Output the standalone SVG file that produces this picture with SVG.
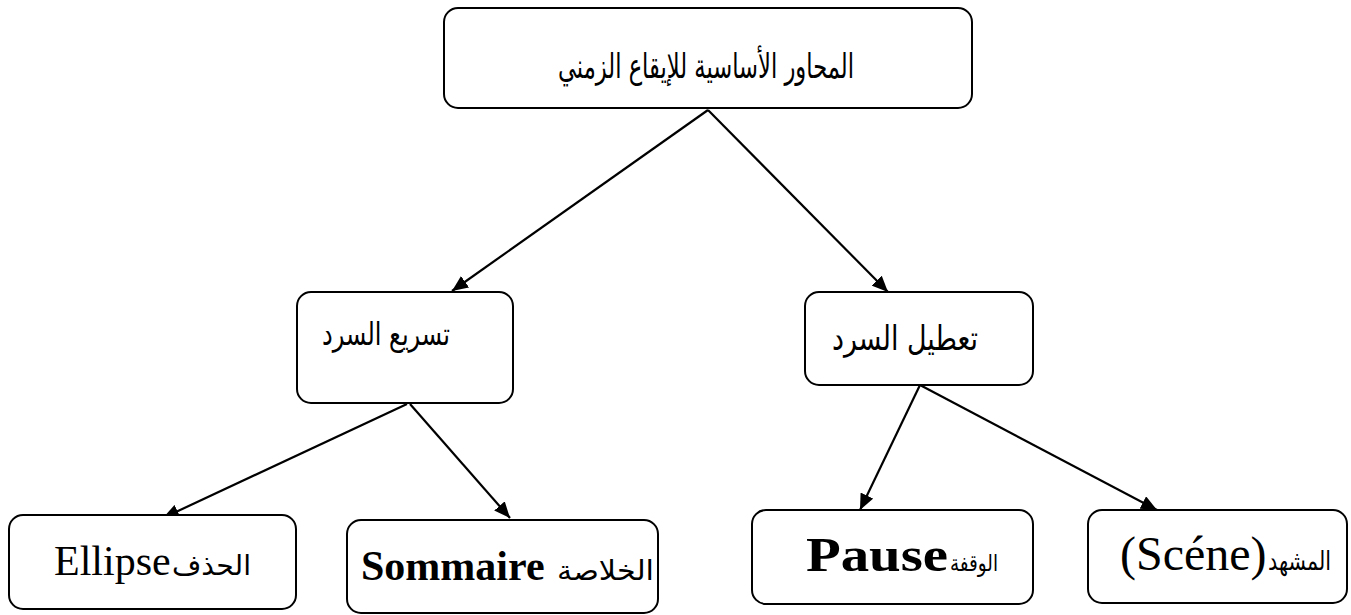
<svg xmlns="http://www.w3.org/2000/svg" width="1351" height="615" viewBox="0 0 1351 615">
<style>
.box{fill:#fff;stroke:#000;stroke-width:2}
.t{font-family:"Liberation Serif","DejaVu Sans",serif;fill:#000}
.ar{font-family:"DejaVu Sans","Liberation Serif",sans-serif;fill:#000}
.con line{stroke:#000;stroke-width:2.2}
</style>
<defs>
<marker id="ah" markerUnits="userSpaceOnUse" markerWidth="18" markerHeight="14" refX="16" refY="7" orient="auto">
<path d="M0,0 L16,7 L0,14 Z" fill="#000"/>
</marker>
</defs>
<rect width="1351" height="615" fill="#fff"/>
<g id="connectors" class="con">
<line x1="708" y1="110" x2="452" y2="291" marker-end="url(#ah)"/>
<line x1="708" y1="110" x2="888" y2="292" marker-end="url(#ah)"/>
<line x1="407" y1="404" x2="163" y2="518" marker-end="url(#ah)"/>
<line x1="410" y1="404" x2="510" y2="518" marker-end="url(#ah)"/>
<line x1="920" y1="385" x2="860" y2="510" marker-end="url(#ah)"/>
<line x1="920" y1="385" x2="1157" y2="510" marker-end="url(#ah)"/>
</g>
<g id="root">
<rect class="box" x="444" y="8" width="528" height="100" rx="14"/>
<text class="ar" x="706" y="78" font-size="34" text-anchor="middle" direction="rtl" textLength="296" lengthAdjust="spacingAndGlyphs">المحاور الأساسية للإيقاع الزمني</text>
</g>
<g id="tasri">
<rect class="box" x="297" y="292" width="216" height="111" rx="14"/>
<text class="ar" x="386" y="345" font-size="32" text-anchor="middle" direction="rtl" textLength="128" lengthAdjust="spacingAndGlyphs">تسريع السرد</text>
</g>
<g id="tatil">
<rect class="box" x="805" y="292" width="228" height="93" rx="14"/>
<text class="ar" x="905" y="350" font-size="34" text-anchor="middle" direction="rtl" textLength="146" lengthAdjust="spacingAndGlyphs">تعطيل السرد</text>
</g>
<g id="ellipse">
<rect class="box" x="9" y="515" width="287" height="94" rx="14"/>
<text class="t" y="575" font-size="42"><tspan x="54">Ellipse</tspan><tspan class="ar" x="172" font-size="28" textLength="79" lengthAdjust="spacingAndGlyphs">الحذف</tspan></text>
</g>
<g id="sommaire">
<rect class="box" x="347" y="520" width="311" height="93" rx="14"/>
<text class="t" y="580" font-size="42"><tspan x="361" font-weight="bold">Sommaire</tspan> <tspan class="ar" x="557" font-size="28" textLength="97" lengthAdjust="spacingAndGlyphs">الخلاصة</tspan></text>
</g>
<g id="pause">
<rect class="box" x="752" y="510" width="281" height="94" rx="14"/>
<text class="t" y="571" font-size="48"><tspan x="806" font-weight="bold" textLength="142" lengthAdjust="spacingAndGlyphs">Pause</tspan><tspan class="ar" x="950" font-size="23" textLength="48" lengthAdjust="spacingAndGlyphs">الوقفة</tspan></text>
</g>
<g id="scene">
<rect class="box" x="1088" y="510" width="259" height="93" rx="14"/>
<text class="t" y="570" font-size="48"><tspan x="1120">(Scéne)</tspan><tspan class="ar" x="1268" font-size="26" textLength="63" lengthAdjust="spacingAndGlyphs">المشهد</tspan></text>
</g>
</svg>
